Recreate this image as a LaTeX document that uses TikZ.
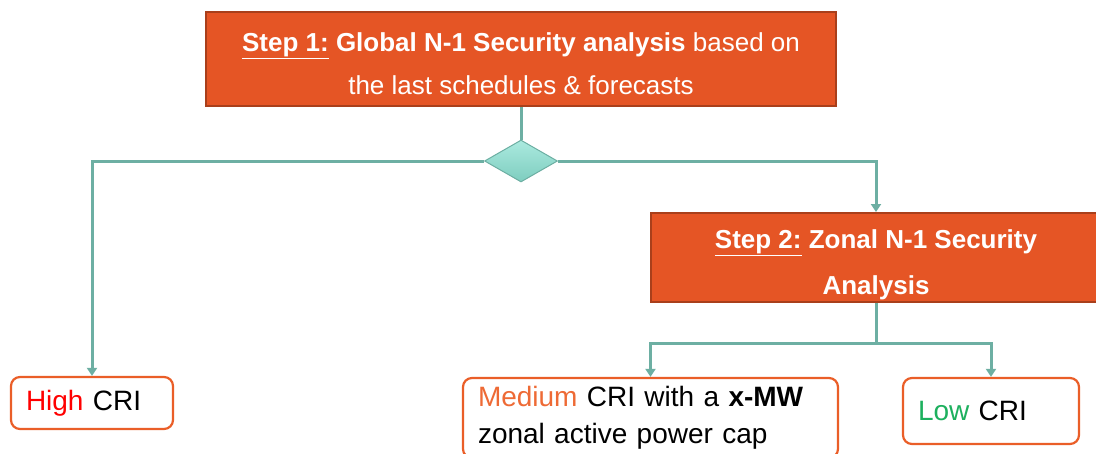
\documentclass[tikz,border=0pt]{standalone}
\usepackage{fontspec}
\setmainfont{Liberation Sans}
\usetikzlibrary{shapes.geometric}
\usetikzlibrary{arrows.meta}

\definecolor{stepfill}{HTML}{E55525}
\definecolor{stepline}{HTML}{A93F1B}
\definecolor{linkcol}{HTML}{6DAFA3}
\definecolor{boxline}{HTML}{EA5E28}
\definecolor{medcol}{HTML}{EE6A35}
\definecolor{lowcol}{HTML}{1DB05E}
\definecolor{diatop}{HTML}{ABEADF}
\definecolor{diabot}{HTML}{7ECDBF}

\begin{document}
\begin{tikzpicture}[x=1pt, y=-1pt,
    stepbox/.style={rectangle, draw=stepline, line width=2pt, fill=stepfill},
    steptext/.style={text=white, align=center, inner sep=0pt},
    result/.style={rectangle, rounded corners=9pt, draw=boxline, line width=2.2pt, fill=white, align=left, inner xsep=15pt, font=\fontsize{28}{37}\selectfont},
    link/.style={draw=linkcol, line width=3pt},
    >={Triangle[length=8pt, width=10pt]}]
				\useasboundingbox (0,0) rectangle (1096,453);

				\node[stepbox, minimum width=630pt, minimum height=94pt] (S1) at (521,59) {};
				\node[steptext, font=\fontsize{26}{43}\selectfont] (S1text) at (521,64)
					{\underline{\textbf{Step 1:}} \textbf{Global N-1 Security analysis} based on\\the last schedules \& forecasts};
				\node[diamond, draw=linkcol, line width=1pt, top color=diatop, bottom color=diabot, minimum width=73pt, minimum height=42pt, inner sep=0pt] (D) at (521,161) {};
				\node[stepbox, minimum width=450pt, minimum height=89pt] (S2) at (876,257.5) {};
				\node[steptext, font=\fontsize{26}{46}\selectfont\bfseries] (S2text) at (876,264.5)
					{\underline{Step 2:} Zonal N-1 Security\\Analysis};

				\node[result, text width=132pt, minimum height=52pt] (High) at (92,403) {\textcolor{red}{High} CRI};
				\node[result, text width=345pt, minimum height=80pt] (Med) at (650.5,418) {\textcolor{medcol}{Medium} CRI with a \textbf{x-MW}\\zonal active power cap};
				\node[result, text width=146pt, minimum height=66pt] (Low) at (991,411) {\textcolor{lowcol}{Low} CRI};

				\coordinate (J) at (876,343);

				\draw[link] (S1.south) -- (D.north);
				\draw[link,->] (D.west) -| (High.north);
				\draw[link,->] (D.east) -| (S2.north);
				\draw[link] (S2.south) -- (J);
				\draw[link,->] (J) -| (Med.north);
				\draw[link,->] (J) -| (Low.north);
			\end{tikzpicture}
\end{document}
